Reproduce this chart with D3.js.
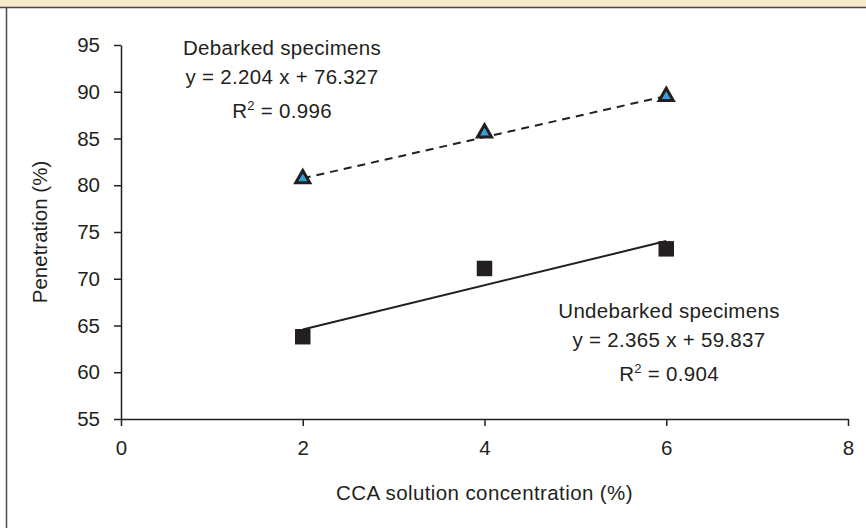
<!DOCTYPE html>
<html>
<head>
<meta charset="utf-8">
<script src="https://cdn.jsdelivr.net/npm/d3@7"></script>
<style>
  body { margin: 0; background: #fff; }
  svg text { font-family: "Liberation Sans", Arial, sans-serif; fill: #231f20; }
</style>
</head>
<body>
<script>
// data
var concentrations = [2, 4, 6];
var debarked = [80.7, 85.6, 89.5];
var undebarked = [63.8, 71.1, 73.2];
// trend line ends (x = 2 and x = 6)
var trendX = [2, 6];
var debarkedTrend = [80.74, 89.55];
var undebarkedTrend = [64.57, 74.03];
var xTicks = [0, 2, 4, 6, 8];
var yTicks = [55, 60, 65, 70, 75, 80, 85, 90, 95];
var debarkedLabel = ["Debarked specimens", "y = 2.204 x + 76.327", "0.996"];
var undebarkedLabel = ["Undebarked specimens", "y = 2.365 x + 59.837", "0.904"];

var full_width = 866, full_height = 528;
var margin = {top: 45, right: 18, bottom: 109, left: 121};
var width = full_width - margin.left - margin.right,
    height = full_height - margin.top - margin.bottom;
var fontSize = "20.5px";

var svg = d3.select("body").append("svg")
  .attr("width", full_width)
  .attr("height", full_height);

// page frame: beige band on top, rule lines
svg.append("rect").attr("x", 0).attr("y", 0).attr("width", full_width).attr("height", 7).attr("fill", "#f6eaca");
svg.append("line").attr("x1", 0).attr("x2", full_width).attr("y1", 7.5).attr("y2", 7.5).attr("stroke", "#4a4a4a").attr("stroke-width", 1.5);
svg.append("line").attr("x1", 6.5).attr("x2", 6.5).attr("y1", 7).attr("y2", full_height).attr("stroke", "#4a4a4a").attr("stroke-width", 1.5);

var g = svg.append("g").attr("transform", "translate(" + margin.left + "," + margin.top + ")");

var x = d3.scaleLinear().domain([0, 8]).range([0, width]);
var y = d3.scaleLinear().domain([55, 95]).range([height, 0]);

var xAxis = g.append("g")
  .attr("transform", "translate(0," + height + ")")
  .call(d3.axisBottom(x).tickValues(xTicks).tickSize(7).tickSizeOuter(0).tickPadding(13));
var yAxis = g.append("g")
  .call(d3.axisLeft(y).tickValues(yTicks).tickSize(7).tickSizeOuter(0).tickPadding(14));

[xAxis, yAxis].forEach(function(a) {
  a.attr("font-size", fontSize).attr("font-family", null);
  a.select(".domain").attr("stroke", "#231f20").attr("stroke-width", 1.5);
  a.selectAll(".tick line").attr("stroke", "#231f20").attr("stroke-width", 1.5);
  a.selectAll(".tick text").attr("fill", "#231f20");
});
xAxis.selectAll(".tick text").attr("dy", "0.8em");

// axis titles
g.append("text")
  .attr("x", width / 2)
  .attr("y", height + 81)
  .attr("text-anchor", "middle")
  .attr("font-size", fontSize)
  .attr("letter-spacing", "0.4px")
  .text("CCA solution concentration (%)");

g.append("text")
  .attr("transform", "translate(" + (-74) + "," + (height / 2) + ") rotate(-90)")
  .attr("text-anchor", "middle")
  .attr("font-size", fontSize)
  .text("Penetration (%)");

// trend lines
var line = d3.line()
  .x(function(d) { return x(d[0]); })
  .y(function(d) { return y(d[1]); });

g.append("path")
  .datum(d3.zip(trendX, debarkedTrend))
  .attr("d", line)
  .attr("fill", "none")
  .attr("stroke", "#231f20")
  .attr("stroke-width", 2)
  .attr("stroke-dasharray", "8,6");

g.append("path")
  .datum(d3.zip(trendX, undebarkedTrend))
  .attr("d", line)
  .attr("fill", "none")
  .attr("stroke", "#231f20")
  .attr("stroke-width", 2);

// markers
g.selectAll(".tri")
  .data(d3.zip(concentrations, debarked))
  .enter().append("path")
  .attr("class", "tri")
  .attr("transform", function(d) { return "translate(" + x(d[0]) + "," + y(d[1]) + ")"; })
  .attr("d", d3.symbol().type(d3.symbolTriangle).size(85))
  .attr("fill", "#3a9fd8")
  .attr("stroke", "#231f20")
  .attr("stroke-width", 3)
  .attr("stroke-linejoin", "miter");

g.selectAll(".sq")
  .data(d3.zip(concentrations, undebarked))
  .enter().append("path")
  .attr("class", "sq")
  .attr("transform", function(d) { return "translate(" + x(d[0]) + "," + y(d[1]) + ")"; })
  .attr("d", d3.symbol().type(d3.symbolSquare).size(240))
  .attr("fill", "#231f20");

// equation labels
var drawLabel = function(lines, cx, baseY) {
  var t = g.append("g").attr("font-size", fontSize).attr("text-anchor", "middle");
  t.append("text").attr("x", cx).attr("y", baseY).attr("letter-spacing", "0.3px").text(lines[0]);
  t.append("text").attr("x", cx).attr("y", baseY + 29).attr("letter-spacing", "0.3px").text(lines[1]);
  var r = t.append("text").attr("x", cx).attr("y", baseY + 63).attr("letter-spacing", "0.3px");
  r.append("tspan").text("R");
  r.append("tspan").attr("font-size", "13px").attr("dy", -8).text("2");
  r.append("tspan").attr("dy", 8).text(" = " + lines[2]);
};
drawLabel(debarkedLabel, 282 - margin.left, 55 - margin.top);
drawLabel(undebarkedLabel, 669 - margin.left, 318 - margin.top);
</script>
</body>
</html>
